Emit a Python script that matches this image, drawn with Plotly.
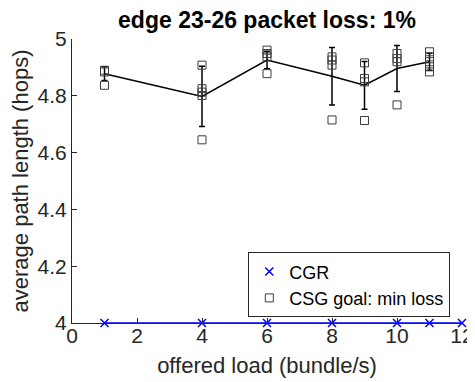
import plotly.graph_objects as go

# ---- data ----
cgr_load = [1, 4, 6, 8, 10, 11, 12]
cgr_hops = [4, 4, 4, 4, 4, 4, 4]

csg_load = [1, 4, 6, 8, 9, 10, 11]
csg_mean = [4.878, 4.798, 4.926, 4.869, 4.837, 4.896, 4.920]
csg_err = [0.024, 0.106, 0.031, 0.101, 0.084, 0.081, 0.030]

run_load = [1, 1, 1,
            4, 4, 4, 4, 4,
            6, 6, 6, 6,
            8, 8, 8, 8,
            9, 9, 9, 9,
            10, 10, 10, 10,
            11, 11, 11, 11, 11]
run_hops = [4.890, 4.884, 4.837,
            4.908, 4.825, 4.813, 4.801, 4.645,
            4.961, 4.949, 4.937, 4.878,
            4.937, 4.926, 4.908, 4.715,
            4.916, 4.861, 4.849, 4.713,
            4.949, 4.931, 4.920, 4.768,
            4.955, 4.937, 4.920, 4.902, 4.884]

x_ticks = [0, 2, 4, 6, 8, 10, 12]
y_ticks = [4, 4.2, 4.4, 4.6, 4.8, 5]
y_tick_labels = ["4", "4.2", "4.4", "4.6", "4.8", "5"]

FONT = "Liberation Sans, Arial, Helvetica, sans-serif"
TXT = "rgb(38,38,38)"

fig = go.Figure()

fig.add_trace(go.Scatter(
    x=cgr_load, y=cgr_hops, mode="lines",
    line=dict(color="rgb(0,0,255)", width=1.5),
    showlegend=False, hoverinfo="skip"))
fig.add_trace(go.Scatter(
    x=cgr_load, y=cgr_hops, mode="markers", name="CGR",
    marker=dict(symbol="x-thin-open", size=8, color="rgb(0,0,255)",
                line=dict(color="rgb(0,0,255)", width=1.5)),
    cliponaxis=False))

fig.add_trace(go.Scatter(
    x=csg_load, y=csg_mean, mode="lines",
    line=dict(color="black", width=1.5),
    error_y=dict(type="data", array=csg_err, color="black",
                 thickness=1.5, width=3),
    showlegend=False, hoverinfo="skip"))
fig.add_trace(go.Scatter(
    x=run_load, y=run_hops, mode="markers", name="CSG goal: min loss",
    marker=dict(symbol="square-open", size=8, color="rgb(60,60,60)",
                line=dict(color="rgb(60,60,60)", width=1)),
    cliponaxis=False))

fig.update_layout(
    width=475, height=382,
    margin=dict(l=64, r=21, t=31, b=67, autoexpand=False),
    paper_bgcolor="white", plot_bgcolor="white",
    font=dict(family=FONT, size=20, color=TXT),
    title=dict(text="<b>edge 23-26 packet loss: 1%</b>",
               x=0.5, xref="paper", xanchor="center",
               y=1 - 12 / 382, yref="container", yanchor="middle",
               font=dict(family=FONT, size=23, color="black")),
    showlegend=True,
    legend=dict(x=0.97, y=0.02, xanchor="right", yanchor="bottom",
                bgcolor="white", bordercolor=TXT, borderwidth=1,
                font=dict(family=FONT, size=18, color="black"),
                tracegroupgap=0, itemwidth=30),
)

fig.update_xaxes(
    range=[0, 12], tickvals=x_ticks, ticktext=[str(v) for v in x_ticks],
    showline=True, linecolor=TXT, linewidth=1, mirror=False,
    ticks="inside", ticklen=5, tickcolor=TXT, showgrid=False, zeroline=False,
    tickfont=dict(size=21, color=TXT), ticklabelstandoff=-6,
    automargin=False,
    title=dict(text="offered load (bundle/s)", font=dict(size=22, color=TXT),
               standoff=11),
)
fig.update_yaxes(
    range=[4, 5], tickvals=y_ticks, ticktext=y_tick_labels,
    showline=True, linecolor=TXT, linewidth=1, mirror=False,
    ticks="inside", ticklen=5, tickcolor=TXT, showgrid=False, zeroline=False,
    tickfont=dict(size=21, color=TXT), ticklabelstandoff=0,
    automargin=False,
    title=dict(text="average path length (hops)", font=dict(size=22, color=TXT),
               standoff=4),
)

fig.write_html("out.html")
